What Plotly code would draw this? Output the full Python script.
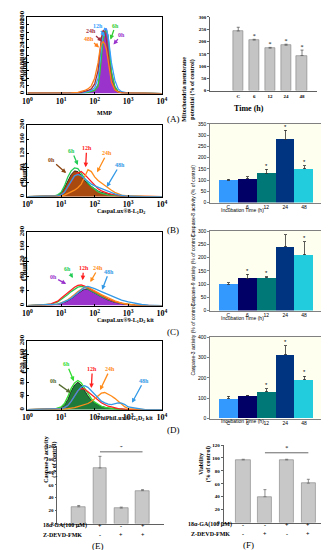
import plotly.graph_objects as go

W, H = 329, 550
SERIF = "Liberation Serif"
SANS = "Liberation Sans"

# ---------------- data ----------------
series = ["0h", "6h", "12h", "24h", "48h"]
hours = ["C", "6", "12", "24", "48"]

# Panel A histogram (MMP), log10 fluorescence grid
mmp_log = [0, 0.5, 1.0, 1.3, 1.5, 1.6, 1.7, 1.8, 1.9, 2.0, 2.1, 2.15, 2.2, 2.25, 2.3,
           2.35, 2.4, 2.45, 2.5, 2.6, 2.7, 2.8, 2.9, 3.0, 3.5, 4.0]
mmp_0h = [1, 1, 1, 1, 2, 2, 3, 4, 6, 10, 25, 55, 100, 140, 165, 170, 150, 110, 60, 20, 6, 3, 2, 1, 1, 0]
mmp_6h = [1, 1, 1, 1, 1, 2, 2, 3, 5, 8, 20, 50, 95, 140, 160, 165, 150, 110, 55, 18, 5, 2, 1, 1, 1, 0]
mmp_12h = [1, 1, 1, 1, 2, 2, 3, 5, 8, 15, 40, 80, 130, 160, 170, 168, 150, 120, 80, 35, 12, 5, 2, 1, 1, 0]
mmp_24h = [1, 1, 1, 2, 2, 3, 5, 8, 12, 25, 60, 105, 145, 165, 160, 140, 110, 70, 35, 10, 4, 2, 1, 1, 1, 0]
mmp_48h = [1, 1, 1, 2, 3, 5, 8, 12, 20, 40, 80, 110, 130, 135, 130, 115, 90, 60, 30, 10, 4, 2, 1, 1, 1, 0]

# Panel B histogram (CaspaLux8)
c8_log = [0, 0.5, 0.8, 0.9, 1.0, 1.1, 1.2, 1.3, 1.4, 1.5, 1.6, 1.7, 1.8, 1.9, 2.0,
          2.1, 2.2, 2.3, 2.4, 2.5, 2.6, 2.7, 2.8, 3.0, 3.5, 4.0]
c8_0h = [0, 1, 2, 4, 10, 25, 45, 62, 72, 70, 60, 45, 35, 28, 22, 16, 12, 9, 7, 5, 3, 2, 1, 1, 0, 0]
c8_6h = [0, 1, 2, 5, 12, 30, 55, 72, 80, 78, 65, 50, 38, 28, 20, 14, 10, 7, 5, 4, 3, 2, 1, 1, 0, 0]
c8_12h = [0, 1, 1, 2, 5, 12, 25, 42, 58, 66, 70, 62, 52, 40, 30, 22, 16, 12, 9, 7, 5, 3, 2, 1, 0, 0]
c8_24h = [0, 0, 0, 1, 2, 4, 8, 12, 18, 25, 35, 55, 75, 70, 55, 45, 38, 30, 25, 18, 12, 8, 4, 2, 0, 0]
c8_48h = [0, 1, 1, 2, 5, 12, 28, 45, 58, 62, 58, 50, 42, 35, 30, 26, 22, 18, 15, 12, 8, 5, 3, 1, 0, 0]

# Panel C histogram (CaspaLux9)
c9_log = [0, 0.3, 0.5, 0.7, 0.9, 1.0, 1.1, 1.2, 1.3, 1.4, 1.5, 1.6, 1.7, 1.8, 1.9,
          2.0, 2.2, 2.4, 2.6, 2.8, 3.0, 3.2, 3.4, 3.6, 3.8, 4.0]
c9_0h = [0, 0, 1, 2, 4, 6, 9, 13, 18, 25, 33, 40, 45, 44, 40, 34, 24, 15, 9, 5, 2, 1, 0, 0, 0, 0]
c9_6h = [0, 1, 2, 4, 10, 16, 22, 30, 38, 45, 50, 52, 50, 45, 40, 34, 25, 17, 10, 6, 3, 1, 0, 0, 0, 0]
c9_12h = [0, 1, 2, 5, 12, 20, 28, 36, 44, 50, 55, 56, 53, 48, 42, 36, 27, 18, 11, 6, 3, 1, 0, 0, 0, 0]
c9_24h = [0, 0, 1, 2, 4, 7, 11, 16, 22, 30, 38, 45, 50, 50, 46, 40, 30, 21, 13, 7, 3, 1, 0, 0, 0, 0]
c9_48h = [0, 1, 1, 2, 4, 7, 10, 15, 20, 28, 36, 44, 50, 52, 50, 46, 38, 30, 22, 15, 10, 6, 3, 1, 0, 0]

# Panel D histogram (PhiPhiLux)
c3_log = [0, 0.5, 0.8, 1.0, 1.1, 1.2, 1.3, 1.4, 1.5, 1.6, 1.7, 1.8, 1.9, 2.0, 2.1,
          2.2, 2.3, 2.4, 2.5, 2.6, 2.7, 2.8, 2.9, 3.0, 3.5, 4.0]
c3_0h = [0, 1, 2, 6, 14, 30, 55, 72, 80, 72, 55, 40, 28, 20, 14, 10, 7, 5, 4, 3, 2, 1, 1, 0, 0, 0]
c3_6h = [0, 1, 2, 8, 18, 38, 62, 78, 85, 78, 62, 45, 32, 22, 15, 10, 7, 5, 3, 2, 1, 1, 0, 0, 0, 0]
c3_12h = [0, 1, 1, 3, 6, 12, 25, 42, 55, 62, 60, 52, 44, 35, 28, 20, 15, 10, 8, 5, 3, 2, 1, 0, 0, 0]
c3_24h = [0, 0, 0, 1, 2, 3, 4, 6, 9, 12, 15, 18, 24, 32, 42, 48, 50, 46, 40, 33, 25, 16, 8, 3, 0, 0]
c3_48h = [0, 1, 1, 3, 6, 12, 24, 40, 55, 66, 70, 65, 55, 42, 32, 25, 20, 16, 15, 17, 20, 19, 15, 8, 0, 0]

# Bar panels
mito_vals = [243, 206, 173, 185, 143]
mito_err = [15, 3, 3, 4, 22]
mito_sig = [1, 2, 3, 4]

casp8_vals = [100, 106, 130, 282, 150]
casp8_err = [3, 9, 18, 40, 15]
casp8_sig = [2, 3, 4]

casp9_vals = [100, 121, 124, 241, 211]
casp9_err = [5, 16, 3, 45, 48]
casp9_sig = [1, 2, 3, 4]

casp3_vals = [97, 111, 132, 313, 190]
casp3_err = [12, 3, 13, 45, 18]
casp3_sig = [2, 3, 4]

ga_e = ["-", "+", "-", "+"]
zd_e = ["-", "-", "+", "+"]
e_vals = [26, 86, 24, 51]
e_err = [2, 18, 1.5, 1.5]
e_bracket = [1, 3, 111]

ga_f = ["-", "-", "+", "+"]
zd_f = ["-", "+", "-", "+"]
f_vals = [97, 40, 97, 61]
f_err = [1, 11, 1, 6]
f_bracket = [1, 3, 108]

# ---------------- helpers ----------------
fig = go.Figure()
layout = {}
annotations = []
shapes = []
count = [0]


def X(p):
    return p / W


def Y(p):
    return 1 - p / H


def new_axes(x0, x1, y0, y1, xa, ya):
    count[0] += 1
    n = count[0]
    s = "" if n == 1 else str(n)
    layout["xaxis" + s] = dict(xa, domain=[X(x0), X(x1)], anchor="y" + s)
    layout["yaxis" + s] = dict(ya, domain=[Y(y1), Y(y0)], anchor="x" + s)
    return "x" + s, "y" + s


def text(x, y, t, size, family=SERIF, bold=False, color="black", angle=0, xref="paper", yref="paper", **kw):
    annotations.append(dict(x=x, y=y, xref=xref, yref=yref, text=t, showarrow=False,
                            textangle=angle, font=dict(family=family, size=size, color=color,
                                                       weight="bold" if bold else "normal"), **kw))


def histogram(box, logs, curves, colors, fill_color, outline, ymax, dtick, xlabel, arrows):
    x0, x1, y0, y1 = box
    xa = dict(type="log", range=[0, 4], tickvals=[1, 10, 100, 1000, 10000],
              ticktext=["10<sup>%d</sup>" % i for i in range(5)],
              showline=True, linecolor="black", linewidth=1, mirror=True, ticks="inside",
              ticklen=2, tickcolor="black", showgrid=False, zeroline=False,
              tickfont=dict(family=SERIF, size=8, weight="bold", color="black"))
    ya = dict(range=[0, ymax], dtick=dtick, tickangle=-90, showline=True, linecolor="black",
              linewidth=1, mirror=True, ticks="inside", ticklen=2, tickcolor="black",
              showgrid=False, zeroline=False,
              tickfont=dict(family=SERIF, size=7, weight="bold", color="black"))
    xr, yr = new_axes(x0, x1, y0, y1, xa, ya)
    xs = [10 ** v for v in logs]
    fig.add_trace(go.Scatter(x=xs, y=curves[0], xaxis=xr, yaxis=yr, mode="lines",
                             fill="tozeroy", fillcolor=fill_color,
                             line=dict(color=outline, width=0.7)))
    for c, col in zip(curves[1:], colors[1:]):
        fig.add_trace(go.Scatter(x=xs, y=c, xaxis=xr, yaxis=yr, mode="lines",
                                 line=dict(color=col, width=1.3)))
    text(X(5), Y((y0 + y1) / 2), "Counts", 8, bold=True, angle=-90)
    text(X((x0 + x1) / 2), Y(y1 + 15), xlabel, 6, bold=True)
    for (name, hx, hy, ax, ay), col in zip(arrows, colors):
        annotations.append(dict(x=hx, y=hy, xref=xr, yref=yr, ax=ax, ay=ay, text=name,
                                showarrow=True, arrowhead=2, arrowsize=0.7, arrowwidth=1.3,
                                arrowcolor=col, font=dict(family=SERIF, size=6, color=col, weight="bold")))


def color_bars(box, vals, errs, sig, ymax, dtick, ytitle, label_y):
    x0, x1, y0, y1 = box
    xa = dict(type="category", range=[-0.96, 4.96], showline=True, linecolor="#808080",
              linewidth=0.8, mirror=True, ticks="", showgrid=False,
              tickfont=dict(family=SANS, size=5, color="black"))
    ya = dict(range=[0, ymax], dtick=dtick, showline=True, linecolor="#808080", linewidth=0.8,
              mirror=True, ticks="outside", ticklen=2, tickcolor="#808080", showgrid=False,
              zeroline=False, tickfont=dict(family=SANS, size=5, color="black"))
    xr, yr = new_axes(x0, x1, y0, y1, xa, ya)
    shapes.append(dict(type="rect", xref=xr + " domain", yref=yr + " domain", x0=0, x1=1, y0=0, y1=1,
                       fillcolor="#FFFFF0", line=dict(width=0), layer="below"))
    fig.add_trace(go.Bar(x=hours, y=vals, xaxis=xr, yaxis=yr, width=1,
                         marker=dict(color=["#3399FF", "#000066", "#007878", "#003380", "#22CCDD"],
                                     line=dict(width=0)),
                         error_y=dict(type="data", symmetric=False, array=errs, arrayminus=[0] * 5,
                                      color="#333333", thickness=0.8, width=1.5)))
    fig.add_trace(go.Scatter(x=[hours[i] for i in sig], y=[vals[i] + errs[i] + ymax * 0.04 for i in sig],
                             xaxis=xr, yaxis=yr, mode="text", text=["*"] * len(sig),
                             textfont=dict(family=SANS, size=6, color="black")))
    text(X(186), Y((y0 + y1) / 2), ytitle, 5, family=SANS, angle=-90)
    text(X((x0 + x1) / 2), Y(y1 + 8), "Incubation Time (h)", 5, family=SANS)
    text(X(166), Y(label_y), "(%s)" % "BCD"[count[0] // 2 - 2], 9)


def gray_bars(box, cats, vals, errs, xrange, ymax, dtick, bracket, ytitle, ytx, rows, rowx, plabel, plx):
    x0, x1, y0, y1 = box
    xa = dict(type="linear", range=xrange, showline=True, linecolor="#606060", linewidth=0.8,
              showticklabels=False, ticks="", showgrid=False, zeroline=False)
    ya = dict(range=[0, ymax], dtick=dtick, showline=True, linecolor="#606060", linewidth=0.8,
              ticks="outside", ticklen=2, tickcolor="#606060", showgrid=False, zeroline=False,
              tickfont=dict(family=SERIF, size=5, weight="bold", color="black"))
    xr, yr = new_axes(x0, x1, y0, y1, xa, ya)
    fig.add_trace(go.Bar(x=cats, y=vals, xaxis=xr, yaxis=yr, width=0.65,
                         marker=dict(color="#C8C8C8", line=dict(color="#808080", width=0.6)),
                         error_y=dict(type="data", symmetric=False, array=errs, arrayminus=[0] * len(vals),
                                      color="#707070", thickness=0.8, width=1.5)))
    a, b, lvl = bracket
    fig.add_trace(go.Scatter(x=[a, b], y=[lvl, lvl], xaxis=xr, yaxis=yr, mode="lines",
                             line=dict(color="#404040", width=0.8)))
    fig.add_trace(go.Scatter(x=[(a + b) / 2], y=[lvl + ymax * 0.05], xaxis=xr, yaxis=yr, mode="text",
                             text=["*"], textfont=dict(family=SERIF, size=6, color="black")))
    text(X(ytx), Y((y0 + y1) / 2), ytitle, 6, bold=True, angle=-90)
    for r, (lab, marks) in enumerate(rows):
        yy = Y(y1 + 7 + 9 * r)
        text(X(rowx), yy, lab, 6, bold=True, borderpad=0)
        for c, m in zip(cats, marks):
            text(c, yy, m, 6, bold=True, xref=xr, borderpad=0)
    text(X(plx), Y(y1 + 29), plabel, 9, borderpad=0)


# ---------------- Panel A ----------------
histogram((15, 154, 2, 80), mmp_log, [mmp_0h, mmp_6h, mmp_12h, mmp_24h, mmp_48h],
          ["#9933CC", "#33CC33", "#33A0FF", "#A03040", "#FF7F1A"], "#9933CC", "#9933CC",
          200, 20, "MMP",
          [("0h", 2.56, 128, 8, -10), ("6h", 2.47, 141, 5, -14), ("12h", 2.30, 149, -7, -10),
           ("24h", 2.22, 136, -11, -10), ("48h", 2.13, 120, -10, -9)])
text(X(166), Y(99), "(A)", 9)

xa = dict(type="category", range=[-1.76, 4.97], showline=True, linecolor="#606060", linewidth=0.8,
          ticks="", showgrid=False, tickfont=dict(family=SERIF, size=5, weight="bold", color="black"))
ya = dict(range=[0, 300], dtick=50, showline=True, linecolor="#606060", linewidth=0.8,
          ticks="outside", ticklen=2, tickcolor="#606060", showgrid=False, zeroline=False,
          tickfont=dict(family=SERIF, size=5, weight="bold", color="black"))
xr, yr = new_axes(204, 315, 2, 77, xa, ya)
fig.add_trace(go.Bar(x=hours, y=mito_vals, xaxis=xr, yaxis=yr, width=0.67,
                     marker=dict(color="#C4C4C4", line=dict(color="#808080", width=0.6)),
                     error_y=dict(type="data", symmetric=False, array=mito_err, arrayminus=[0] * 5,
                                  color="#606060", thickness=0.8, width=1.5)))
fig.add_trace(go.Scatter(x=[hours[i] for i in mito_sig],
                         y=[mito_vals[i] + mito_err[i] + 12 for i in mito_sig],
                         xaxis=xr, yaxis=yr, mode="text", text=["*"] * len(mito_sig),
                         textfont=dict(family=SERIF, size=6, color="black")))
text(X(182), Y(40), "Mitochondria membrane<br>potential (% of control)", 6, bold=True, angle=-90)
text(X(262), Y(89), "Time (h)", 8, bold=True)

# ---------------- Panel B ----------------
histogram((15, 154, 112, 185), c8_log, [c8_0h, c8_6h, c8_12h, c8_24h, c8_48h],
          ["#8B4513", "#22CC55", "#FF2020", "#FF8C1A", "#3399E6"], "#A84A10", "black",
          200, 40, "CaspaLux\u00ae8-L<sub>1</sub>D<sub>2</sub>",
          [("0h", 1.15, 66, -15, -13), ("6h", 1.50, 88, -6, -14), ("12h", 1.73, 82, 1, -19),
           ("24h", 2.07, 68, 10, -19), ("48h", 2.36, 27, 13, -22)])
color_bars((204, 320, 111, 191), casp8_vals, casp8_err, casp8_sig, 350, 50,
           "Caspase-8 activity (% of control)", 219)

# ---------------- Panel C ----------------
histogram((15, 154, 221, 296), c9_log, [c9_0h, c9_6h, c9_12h, c9_24h, c9_48h],
          ["#9933CC", "#22CC55", "#FF2020", "#FF8C1A", "#3399E6"], "#9933CC", "black",
          200, 40, "CaspaLux\u00ae9-L<sub>1</sub>D<sub>2</sub> kit",
          [("0h", 1.15, 59, -13, -7), ("6h", 1.35, 75, -5, -9), ("12h", 1.64, 69, 1, -12),
           ("24h", 1.87, 64, 8, -14), ("48h", 2.22, 43, 7, -18)])
color_bars((204, 320, 220, 301), casp9_vals, casp9_err, casp9_sig, 300, 50,
           "Caspase-9 activity (% of control)", 323)

# ---------------- Panel D ----------------
histogram((15, 154, 332, 402), c3_log, [c3_0h, c3_6h, c3_12h, c3_24h, c3_48h],
          ["#556B2F", "#33DD33", "#FF2020", "#FF8C1A", "#3399E6"], "#1E7B3A", "black",
          200, 40, "PhiPhiLux\u00ae-G<sub>1</sub>D<sub>2</sub> kit",
          [("0h", 1.29, 49, -17, -12), ("6h", 1.38, 83, -7, -17), ("12h", 1.90, 63, 1, -19),
           ("24h", 2.16, 57, 10, -21), ("48h", 3.11, 20, 12, -22)])
color_bars((204, 320, 328, 411), casp3_vals, casp3_err, casp3_sig, 400, 100,
           "Caspase-3 activity (% of control)", 430)

# ---------------- Panels E, F ----------------
cats = [0, 1, 2, 3]
gray_bars((46, 156, 439, 518), cats, e_vals, e_err, [-1, 4], 120, 20, e_bracket,
          "Caspase-3 activity<br>(% of control)", 29,
          [("18\u03b1-GA(100 \u03bcM)", ga_e), ("Z-DEVD-FMK", zd_e)], 30, "(E)", 81)
gray_bars((218, 328, 438, 517), cats, f_vals, f_err, [-0.9, 4.0], 120, 20, f_bracket,
          "Viability<br>(% of control)", 199,
          [("18\u03b1-GA(100 \u03bcM)", ga_f), ("Z-DEVD-FMK", zd_f)], 204, "(F)", 250)

fig.update_layout(width=W, height=H, margin=dict(l=0, r=0, t=0, b=0), showlegend=False,
                  paper_bgcolor="white", plot_bgcolor="rgba(0,0,0,0)",
                  font=dict(family=SERIF, color="black"), bargap=0,
                  annotations=annotations, shapes=shapes, **layout)
fig.write_html("out.html")
